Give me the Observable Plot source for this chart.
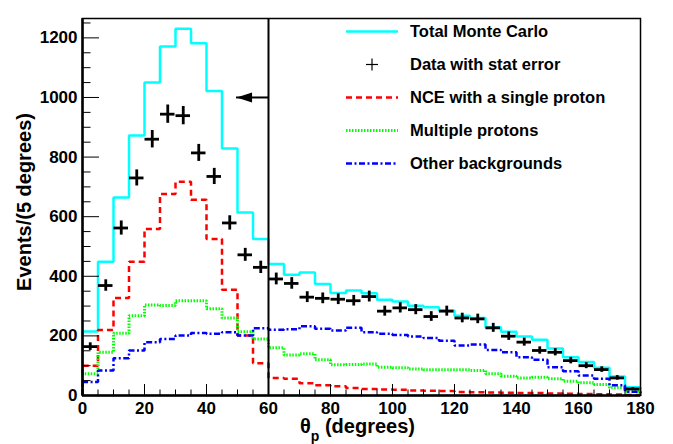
<!DOCTYPE html>
<html><head><meta charset="utf-8">
<script src="https://cdn.jsdelivr.net/npm/d3@7"></script>
<script src="https://cdn.jsdelivr.net/npm/@observablehq/plot@0.6"></script>
<style>
body{margin:0;background:#fff;}
#wrap{position:relative;width:673px;height:444px;}
</style></head><body><div id="wrap"></div>
<script>
// ---- data ----
const binWidth = 5;
const binLow = [0,5,10,15,20,25,30,35,40,45,50,55,60,65,70,75,80,85,90,95,100,105,110,115,120,125,130,135,140,145,150,155,160,165,170,175];
const totalMC = [215,449,664,872,1050,1171,1231,1182,1022,829,614,525,441,405,413,374,344,352,343,321,315,301,296,285,268,260,229,214,198,187,158,128,112,93,64,28];
const dataCounts = [164,369,562,730,860,944,939,814,735,579,472,430,391,376,330,326,323,318,332,283,294,288,265,283,260,257,227,199,179,151,145,117,100,87,59,22];
const nceSingle = [100,220,327,449,559,676,717,657,525,355,201,108,59,56,41,34,31,25,22,20,19,17,16,15,12,11,10,9,8,8,7,6,5,4,3,2];
const multiProton = [73,145,209,268,304,302,318,318,291,260,214,190,160,136,140,120,103,104,106,95,93,89,86,86,86,84,73,65,59,61,56,48,43,37,26,14];
const otherBkg = [45,84,125,151,179,190,201,210,207,212,201,226,221,222,232,224,218,227,212,207,203,198,193,184,168,171,153,145,128,120,95,81,67,56,34,13];
const xTicks = [0,20,40,60,80,100,120,140,160,180];
const yTicks = [0,200,400,600,800,1000,1200];
const cutAngle = [60];
const cutArrow = [{from: 60, to: 49.7, y: 1000}];
const legendLabels = ["Total Monte Carlo","Data with stat error","NCE with a single proton","Multiple protons","Other backgrounds"];
const legendColors = ["#00ffff","#000000","#ff0000","#00ff00","#0000ff"];
const legendDash = [null,null,"6,4","1.5,1.5","6,2.5,2,2.5"];

// ---- derived ----
function steps(vals){
  const pts=[{x:binLow[0],y:0}];
  vals.forEach((v,i)=>{pts.push({x:binLow[i],y:v},{x:binLow[i]+binWidth,y:v});});
  pts.push({x:binLow[vals.length-1]+binWidth,y:0});
  return pts;
}
const rows = binLow.map((lo,i)=>({lo, hi: lo+binWidth, c: lo+binWidth/2, v: dataCounts[i], e: Math.sqrt(dataCounts[i])}));
const xMinor = d3.range(0,181,5).filter(d=>!xTicks.includes(d));
const yMinor = d3.range(0,1251,50).filter(d=>!yTicks.includes(d));
const arrowHead = {draw(ctx){ctx.moveTo(0,0);ctx.lineTo(15.5,-5);ctx.lineTo(15.5,5);ctx.closePath();}};
const lineOpts = {x:"x", y:"y", strokeLinecap:"butt", strokeLinejoin:"miter"};

const chart = Plot.plot({
  width: 673, height: 444,
  marginLeft: 82, marginRight: 33, marginTop: 18, marginBottom: 49,
  style: {fontFamily: "Liberation Sans, Arial, Helvetica, sans-serif", fontWeight: "bold", fontSize: "17px", background: "#fff", color: "#000"},
  x: {domain: [0,180]},
  y: {domain: [0,1265]},
  marks: [
    Plot.line(steps(totalMC), {...lineOpts, stroke:"#00ffff", strokeWidth:2.5}),
    Plot.line(steps(nceSingle), {...lineOpts, stroke:"#ff0000", strokeWidth:2.5, strokeDasharray:"6,4"}),
    Plot.line(steps(multiProton), {...lineOpts, stroke:"#00ff00", strokeWidth:3, strokeDasharray:"1.5,1.5"}),
    Plot.line(steps(otherBkg), {...lineOpts, stroke:"#0000ff", strokeWidth:2.5, strokeDasharray:"6,2.5,2,2.5"}),
    Plot.ruleY(rows, {y:"v", x1:"lo", x2:"hi", stroke:"#000", strokeWidth:2.8, insetLeft:0.5, insetRight:0.5}),
    Plot.ruleX(rows, {x:"c", y1:d=>d.v-d.e, y2:d=>d.v+d.e, stroke:"#000", strokeWidth:2.8}),
    Plot.ruleX(cutAngle, {stroke:"#000", strokeWidth:2}),
    Plot.ruleY(cutArrow, {y:"y", x1:"from", x2:"to", stroke:"#000", strokeWidth:2}),
    Plot.dot(cutArrow, {x:"to", y:"y", symbol: arrowHead, fill:"#000", stroke:"none"}),
    Plot.frame({stroke:"#000", strokeWidth:1.5}),
    Plot.ruleX([0], {stroke:"#000", strokeWidth:2.5}),
    Plot.ruleY([0], {stroke:"#000", strokeWidth:2.5}),
    Plot.axisX(xTicks, {anchor:"bottom", tickSize:-11, fill:"none", label:null}),
    Plot.axisX(xMinor, {anchor:"bottom", tickSize:-5.5, fill:"none", label:null}),
    Plot.axisY(yTicks, {anchor:"left", tickSize:-17, fill:"none", label:null}),
    Plot.axisY(yMinor, {anchor:"left", tickSize:-8.5, fill:"none", label:null}),
    Plot.axisX(xTicks, {anchor:"bottom", tickSize:0, tickPadding:6, label:null, tickFormat:"d", fontSize:17}),
    Plot.axisY(yTicks, {anchor:"left", tickSize:0, tickPadding:5, label:null, tickFormat:"d", fontSize:17}),
    Plot.text(["Events/(5 degrees)"], {frameAnchor:"left", textAnchor:"middle", rotate:-90, dx:-58, dy:-5, fontSize:20, fill:"#000"}),
    Plot.text(["θp (degrees)"], {frameAnchor:"bottom", dy:37, dx:-4, fontSize:20, fill:"#000"})
  ]
});
document.getElementById("wrap").appendChild(chart);

// subscript p in x title
d3.select(chart).selectAll("text").each(function(){
  if (this.textContent === "θp (degrees)") {
    const t = d3.select(this);
    t.text(null);
    t.append("tspan").text("θ");
    t.append("tspan").attr("baseline-shift","sub").attr("font-size","70%").text("p");
    t.append("tspan").text(" (degrees)");
  }
});

// legend (inside frame, top right)
const svg = d3.select(chart);
const lg = svg.append("g").attr("font-size", 16.5).attr("font-weight","bold")
  .attr("text-anchor","start")
  .attr("font-family","Liberation Sans, Arial, Helvetica, sans-serif");
const rowY = i => 31.5 + i*33;
legendLabels.forEach((lab,i)=>{
  const y = rowY(i);
  if (i === 1) {
    lg.append("line").attr("x1",366).attr("x2",378).attr("y1",y).attr("y2",y).attr("stroke","#000").attr("stroke-width",1.2);
    lg.append("line").attr("x1",372).attr("x2",372).attr("y1",y-6).attr("y2",y+6).attr("stroke","#000").attr("stroke-width",1.2);
  } else {
    const l = lg.append("line").attr("x1",346).attr("x2",398).attr("y1",y).attr("y2",y)
      .attr("stroke",legendColors[i]).attr("stroke-width", i===3?3:2.5);
    if (legendDash[i]) l.attr("stroke-dasharray", legendDash[i]);
  }
  lg.append("text").attr("x",410).attr("y",y).attr("dy","0.35em").attr("text-anchor","start").attr("fill","#000").text(lab);
});
</script></body></html>
